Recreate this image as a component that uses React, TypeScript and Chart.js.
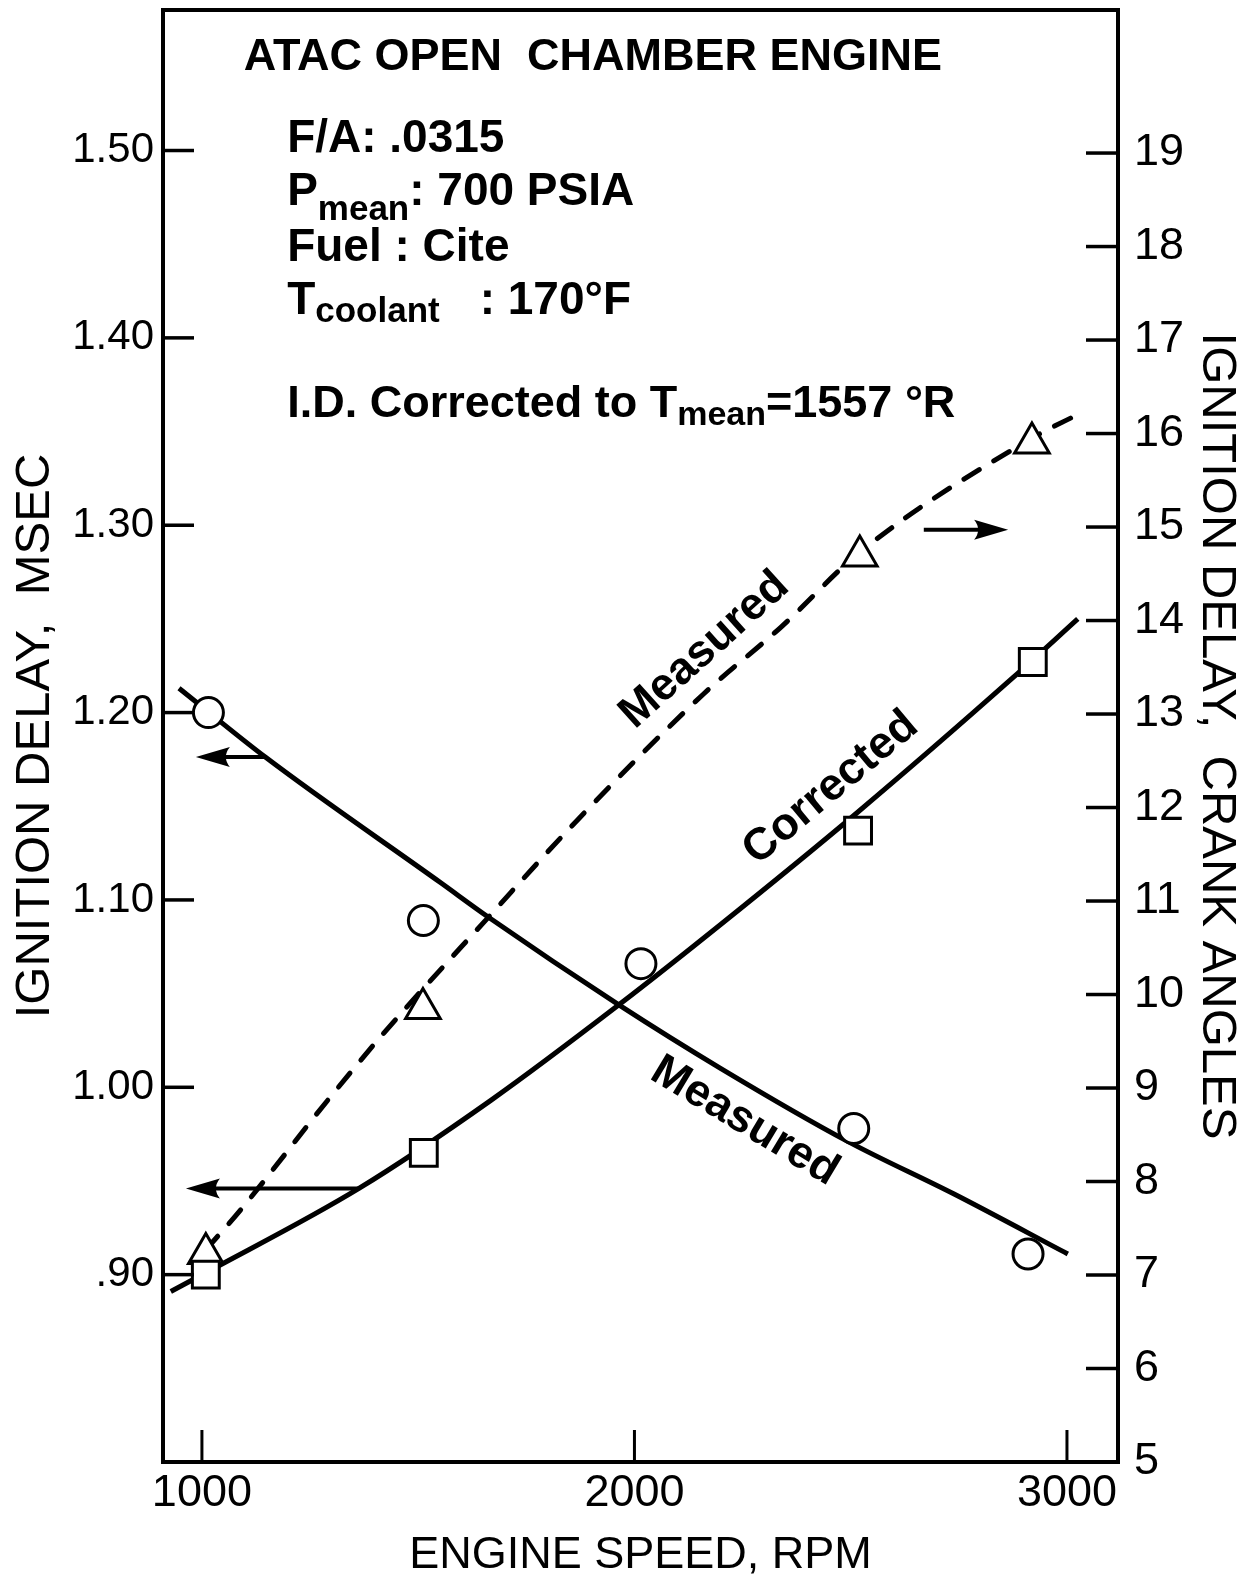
import React, { useEffect, useRef } from 'react';
import { Chart, registerables } from 'chart.js';

Chart.register(...registerables);

const FONT = '"Liberation Sans", Arial, Helvetica, sans-serif';

// Axis ranges and tick values
const RPM_MIN = 910;
const RPM_MAX = 3118;
const RPM_TICKS = [1000, 2000, 3000];

const MSEC_MIN = 0.8;
const MSEC_MAX = 1.575;
const MSEC_TICKS = [0.9, 1.0, 1.1, 1.2, 1.3, 1.4, 1.5];

const CRANK_MIN = 5;
const CRANK_MAX = 20.53;
const CRANK_TICKS = [5, 6, 7, 8, 9, 10, 11, 12, 13, 14, 15, 16, 17, 18, 19];

// Measured ignition delay, msec (circles)
const MEASURED_RPM = [1015, 1512, 2015, 2507, 2910];
const MEASURED_MSEC = [1.2, 1.089, 1.066, 0.978, 0.911];

// Ignition delay corrected to T mean, msec (squares)
const CORRECTED_RPM = [1009, 1513, 2517, 2921];
const CORRECTED_MSEC = [0.9, 0.965, 1.137, 1.227];

// Measured ignition delay, crank angles (triangles)
const CRANK_RPM = [1009, 1511, 2521, 2919];
const CRANK_DEG = [7.23, 9.85, 14.69, 15.9];

// Faired curves through the data
const MEASURED_FIT_RPM = [947, 1148, 1553, 1661, 1964, 2200, 2494, 2739, 3002];
const MEASURED_FIT_MSEC = [1.213, 1.176, 1.109, 1.091, 1.044, 1.01, 0.971, 0.943, 0.911];

const CORRECTED_FIT_RPM = [928, 1009, 1363, 1668, 1964, 2200, 2512, 2877, 3025];
const CORRECTED_FIT_MSEC = [0.891, 0.901, 0.946, 0.993, 1.044, 1.087, 1.146, 1.219, 1.25];

const CRANK_FIT_RPM = [1009, 1090, 1291, 1421, 1661, 1869, 2161, 2339, 2521, 2919, 3032];
const CRANK_FIT_DEG = [7.27, 7.7, 8.87, 9.59, 10.82, 11.87, 13.22, 13.93, 14.73, 15.95, 16.22];

const pts = (xs: number[], ys: number[]) => xs.map((x, i) => ({ x, y: ys[i] }));

const msecLabel = (v: number) => {
  const s = v.toFixed(2);
  return v < 1 ? s.slice(1) : s;
};

type Run = { text: string; size: number; dy?: number; gap?: number; weight?: string };

function drawRuns(ctx: CanvasRenderingContext2D, x: number, y: number, runs: Run[]) {
  let cx = x;
  for (const r of runs) {
    ctx.font = `${r.weight || 'bold'} ${r.size}px ${FONT}`;
    ctx.fillText(r.text, cx, y + (r.dy || 0));
    cx += ctx.measureText(r.text).width + (r.gap || 0);
  }
}

function drawArrow(ctx: CanvasRenderingContext2D, x0: number, y0: number, x1: number, y1: number) {
  const ang = Math.atan2(y1 - y0, x1 - x0);
  const len = 34;
  const half = 10;
  const bx = x1 - Math.cos(ang) * len;
  const by = y1 - Math.sin(ang) * len;
  ctx.lineWidth = 4;
  ctx.beginPath();
  ctx.moveTo(x0, y0);
  ctx.lineTo(bx + Math.cos(ang) * 5, by + Math.sin(ang) * 5);
  ctx.stroke();
  ctx.beginPath();
  ctx.moveTo(x1, y1);
  ctx.lineTo(bx - Math.sin(ang) * half, by + Math.cos(ang) * half);
  ctx.quadraticCurveTo(bx + Math.cos(ang) * 8, by + Math.sin(ang) * 8, bx + Math.sin(ang) * half, by - Math.cos(ang) * half);
  ctx.closePath();
  ctx.fill();
}

// Plot frame and inward tick marks
const framePlugin = {
  id: 'frame',
  afterDraw(chart: any) {
    const { ctx, chartArea: a, scales } = chart;
    const x = scales.x;
    const yl = scales.yMs;
    const yr = scales.yCa;
    ctx.save();
    ctx.strokeStyle = '#000';
    ctx.lineCap = 'butt';
    ctx.lineWidth = 3;
    for (const t of x.ticks) {
      const px = x.getPixelForValue(t.value);
      ctx.beginPath();
      ctx.moveTo(px, a.bottom);
      ctx.lineTo(px, a.bottom - 32);
      ctx.stroke();
    }
    ctx.lineWidth = 3.5;
    for (const t of yl.ticks) {
      const py = yl.getPixelForValue(t.value);
      ctx.beginPath();
      ctx.moveTo(a.left, py);
      ctx.lineTo(a.left + 31, py);
      ctx.stroke();
    }
    for (const t of yr.ticks) {
      if (t.value <= yr.min) continue;
      const py = yr.getPixelForValue(t.value);
      ctx.beginPath();
      ctx.moveTo(a.right, py);
      ctx.lineTo(a.right - 32, py);
      ctx.stroke();
    }
    ctx.lineWidth = 4;
    ctx.strokeRect(a.left, a.top, a.right - a.left, a.bottom - a.top);
    ctx.restore();
  },
};

// Notes, curve labels and axis arrows
const notesPlugin = {
  id: 'notes',
  afterDatasetsDraw(chart: any) {
    const { ctx, scales } = chart;
    const X = (v: number) => scales.x.getPixelForValue(v);
    const YM = (v: number) => scales.yMs.getPixelForValue(v);
    const YC = (v: number) => scales.yCa.getPixelForValue(v);
    ctx.save();
    ctx.fillStyle = '#000';
    ctx.strokeStyle = '#000';
    ctx.textBaseline = 'alphabetic';

    ctx.textAlign = 'center';
    ctx.font = `bold 45px ${FONT}`;
    ctx.fillText('ATAC OPEN  CHAMBER ENGINE', X(1904), YM(1.5429));

    ctx.textAlign = 'left';
    const left = X(1197);
    drawRuns(ctx, left, YM(1.4992), [{ text: 'F/A: .0315', size: 46 }]);
    drawRuns(ctx, left, YM(1.4709), [
      { text: 'P', size: 46 },
      { text: 'mean', size: 35, dy: 15 },
      { text: ': 700 PSIA', size: 46 },
    ]);
    drawRuns(ctx, left, YM(1.441), [{ text: 'Fuel : Cite', size: 46 }]);
    drawRuns(ctx, left, YM(1.4128), [
      { text: 'T', size: 46 },
      { text: 'coolant', size: 35, dy: 8, gap: 40 },
      { text: ': 170°F', size: 46 },
    ]);
    drawRuns(ctx, left, YM(1.3578), [
      { text: 'I.D. Corrected to T', size: 45 },
      { text: 'mean', size: 34, dy: 8 },
      { text: '=1557 °R', size: 45 },
    ]);

    const rotated = (text: string, px: number, py: number, deg: number) => {
      ctx.save();
      ctx.translate(px, py);
      ctx.rotate((deg * Math.PI) / 180);
      ctx.textAlign = 'center';
      ctx.textBaseline = 'middle';
      ctx.font = `bold 45px ${FONT}`;
      ctx.fillText(text, 0, 0);
      ctx.restore();
    };
    rotated('Measured', X(2162), YM(1.2333), -42);
    rotated('Corrected', X(2454), YM(1.1597), -40);
    rotated('Measured', X(2255), YM(0.9818), 31);

    drawArrow(ctx, X(1148), YM(1.1763), X(986), YM(1.1763));
    drawArrow(ctx, X(1363), YM(0.946), X(963), YM(0.946));
    drawArrow(ctx, X(2669), YC(14.97), X(2864), YC(14.97));
    ctx.restore();
  },
};

const marker = {
  showLine: false,
  backgroundColor: '#fff',
  borderColor: '#000',
  pointBackgroundColor: '#fff',
  pointBorderColor: '#000',
  pointBorderWidth: 3,
  order: 0,
};

const curve = {
  showLine: true,
  pointRadius: 0,
  borderColor: '#000',
  borderWidth: 5,
  cubicInterpolationMode: 'monotone' as const,
  fill: false,
  order: 1,
};

// Fixed axis box sizes so the plot area lands where intended
const fixSize = (dim: 'width' | 'height', size: number) => (s: any) => {
  s[dim] = size;
  s.paddingTop = 0;
  s.paddingBottom = 0;
  s.paddingLeft = 0;
  s.paddingRight = 0;
};

export default function App() {
  const ref = useRef<HTMLCanvasElement>(null);

  useEffect(() => {
    const canvas = ref.current;
    if (!canvas) return;
    Chart.defaults.font.family = FONT;
    Chart.defaults.color = '#000';

    const chart = new Chart(canvas, {
      type: 'scatter',
      data: {
        datasets: [
          {
            ...marker,
            label: 'Measured, msec',
            data: pts(MEASURED_RPM, MEASURED_MSEC),
            pointStyle: 'circle',
            pointRadius: 15,
            yAxisID: 'yMs',
          },
          {
            ...marker,
            label: 'Corrected, msec',
            data: pts(CORRECTED_RPM, CORRECTED_MSEC),
            pointStyle: 'rect',
            pointRadius: 19,
            yAxisID: 'yMs',
          },
          {
            ...marker,
            label: 'Measured, crank angles',
            data: pts(CRANK_RPM, CRANK_DEG),
            pointStyle: 'triangle',
            pointRadius: 20,
            yAxisID: 'yCa',
          },
          {
            ...curve,
            label: 'Measured fit',
            data: pts(MEASURED_FIT_RPM, MEASURED_FIT_MSEC),
            yAxisID: 'yMs',
          },
          {
            ...curve,
            label: 'Corrected fit',
            data: pts(CORRECTED_FIT_RPM, CORRECTED_FIT_MSEC),
            yAxisID: 'yMs',
          },
          {
            ...curve,
            label: 'Crank angle fit',
            data: pts(CRANK_FIT_RPM, CRANK_FIT_DEG),
            borderDash: [18, 17],
            borderCapStyle: 'round',
            yAxisID: 'yCa',
          },
        ],
      },
      options: {
        responsive: false,
        devicePixelRatio: 1,
        animation: false,
        events: [],
        layout: { autoPadding: false, padding: { top: 10, left: 0, right: 0, bottom: 0 } },
        plugins: {
          legend: { display: false },
          tooltip: { enabled: false },
        },
        scales: {
          x: {
            type: 'linear',
            position: 'bottom',
            min: RPM_MIN,
            max: RPM_MAX,
            afterFit: fixSize('height', 125),
            afterBuildTicks: (s: any) => {
              s.ticks = RPM_TICKS.map((value) => ({ value }));
            },
            ticks: {
              color: '#000',
              font: { size: 45 },
              padding: 5,
              maxRotation: 0,
              autoSkip: false,
              callback: (v: any) => String(v),
            },
            grid: { display: false, drawTicks: false },
            border: { display: false },
            title: {
              display: true,
              text: 'ENGINE SPEED, RPM',
              color: '#000',
              font: { size: 45 },
              padding: { top: 0, bottom: 4 },
            },
          },
          yMs: {
            type: 'linear',
            position: 'left',
            min: MSEC_MIN,
            max: MSEC_MAX,
            afterFit: fixSize('width', 163),
            afterBuildTicks: (s: any) => {
              s.ticks = MSEC_TICKS.map((value) => ({ value }));
            },
            ticks: {
              color: '#000',
              font: { size: 42 },
              padding: 9,
              autoSkip: false,
              callback: (v: any) => msecLabel(Number(v)),
            },
            grid: { display: false, drawTicks: false },
            border: { display: false },
            title: {
              display: true,
              text: 'IGNITION DELAY,  MSEC',
              color: '#000',
              font: { size: 49 },
              padding: { top: 6, bottom: 0 },
            },
          },
          yCa: {
            type: 'linear',
            position: 'right',
            min: CRANK_MIN,
            max: CRANK_MAX,
            afterFit: fixSize('width', 130),
            afterBuildTicks: (s: any) => {
              s.ticks = CRANK_TICKS.map((value) => ({ value }));
            },
            ticks: {
              color: '#000',
              font: { size: 45 },
              padding: 16,
              autoSkip: false,
              callback: (v: any) => String(v),
            },
            grid: { display: false, drawTicks: false },
            border: { display: false },
            title: {
              display: true,
              text: 'IGNITION DELAY,  CRANK ANGLES',
              color: '#000',
              font: { size: 49 },
              padding: { top: 2, bottom: 0 },
            },
          },
        },
      } as any,
      plugins: [framePlugin, notesPlugin],
    });

    return () => chart.destroy();
  }, []);

  return (
    <div style={{ position: 'absolute', left: 0, top: 0, width: 1248, height: 1587, background: '#fff' }}>
      <canvas ref={ref} width={1248} height={1587} style={{ display: 'block', width: 1248, height: 1587 }} />
    </div>
  );
}
